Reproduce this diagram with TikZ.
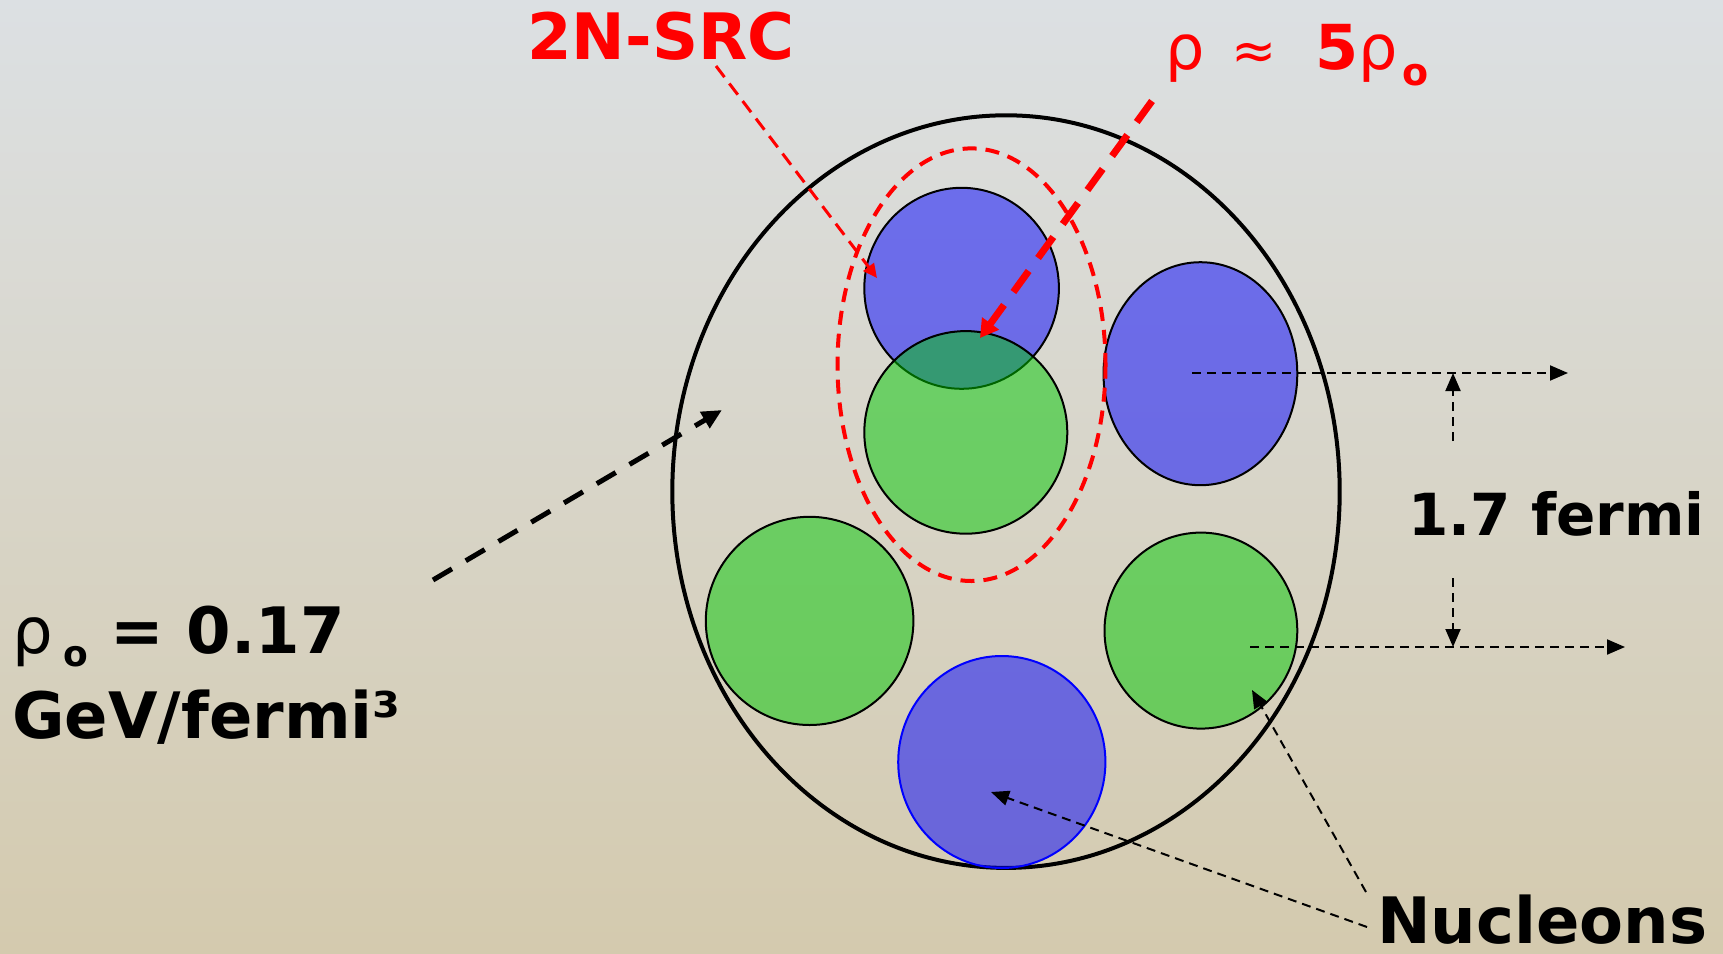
\documentclass[tikz,border=0pt]{standalone}
\usepackage{fontspec}
\setmainfont{DejaVu Sans}
\usetikzlibrary{arrows.meta}

\definecolor{bgtop}{RGB}{220,224,227}
\definecolor{bgbottom}{RGB}{212,202,174}
\definecolor{nucgreen}{RGB}{0,200,0}

\begin{document}
\begin{tikzpicture}[x=0.5pt,y=-0.5pt,
  proton/.style={fill=blue,fill opacity=0.5,draw=black,line width=1pt},
  neutron/.style={fill=nucgreen,fill opacity=0.5,draw=black,line width=1pt},
  bigtext/.style={font=\bfseries\fontsize{32}{42.5}\selectfont,inner sep=0pt,anchor=base west},
  hint/.style={line width=1pt,dash pattern=on 4.5pt off 3pt,-{Triangle[length=9pt,width=7.5pt]}}]
  \shade[top color=bgtop,bottom color=bgbottom] (0,0) rectangle (1723,953);
  \useasboundingbox (0,0) rectangle (1723,953);

  % nucleus and nucleons
  \draw[line width=2pt] (1006,491.6) ellipse [x radius=333.7,y radius=376.3];
  \draw[proton] (961.6,288.3) ellipse [x radius=97.3,y radius=100.5];
  \draw[neutron] (965.8,432.4) ellipse [x radius=101.5,y radius=101.3];
  \draw[proton] (1200.4,373.7) ellipse [x radius=96.9,y radius=111.5];
  \draw[neutron] (809.6,620.9) ellipse [x radius=103.8,y radius=104.1];
  \draw[neutron] (1200.9,630.6) ellipse [x radius=96.4,y radius=98];
  \draw[proton,draw=blue] (1001.8,762) ellipse [x radius=103.6,y radius=106];
  \draw[red,line width=2pt,dash pattern=on 7pt off 4.5pt] (971.5,364.7) ellipse [x radius=134,y radius=216.3];

  % labels
  \node[bigtext,red] (srclabel) at (527,59) {2N-SRC};
  \node[bigtext,red,font=\mdseries\fontsize{31}{37}\selectfont] (densitylabel) at (1165,69)
    {ρ\hspace{13.5pt}{\fontsize{27}{30}\selectfont≈}\hspace{19pt}\textbf{5}ρ\hspace{2.5pt}\raisebox{-8pt}{\bfseries\fontsize{19}{19}\selectfont o}};
  \node[bigtext,font=\bfseries\fontsize{29}{35}\selectfont] (widthlabel) at (1408,535) {1.7 fermi};
  \node[bigtext] (nuclabel) at (1377,943) {Nucleons};
  \node[bigtext,align=left] (rholabel) at (12,738)
    {{\mdseries ρ}\,\raisebox{-6.5pt}{\fontsize{18}{18}\selectfont o} = 0.17\\GeV/fermi³};

  % arrow ends
  \coordinate (rhotail) at (433,580);
  \coordinate (rhotip) at (722,410);
  \coordinate (srctail) at (716,66);
  \coordinate (srctip) at (877,278);
  \coordinate (denstail) at (1152,101);
  \coordinate (denstip) at (980,338);
  \coordinate (upfrom) at (1192,373);
  \coordinate (upto) at (1568,373);
  \coordinate (lowfrom) at (1250,647);
  \coordinate (lowto) at (1625,647);
  \coordinate (uptail) at (1453,441);
  \coordinate (uptip) at (1453,373);
  \coordinate (downtail) at (1453,578);
  \coordinate (downtip) at (1453,647);
  \coordinate (nuctailA) at (1367,927);
  \coordinate (nuctipA) at (991,792);
  \coordinate (nuctailB) at (1366,892);
  \coordinate (nuctipB) at (1252,690);

  \draw[line width=2.5pt,dash pattern=on 11pt off 8pt,-{Triangle[length=10pt,width=9pt]}] (rhotail) -- (rhotip);
  \draw[red,line width=1.5pt,dash pattern=on 7pt off 4pt,-{Triangle[length=7pt,width=6.5pt]}] (srctail) -- (srctip);
  \draw[red,line width=3.5pt,dash pattern=on 13pt off 8pt,-{Triangle[length=9pt,width=10pt]}] (denstail) -- (denstip);
  \draw[hint] (upfrom) -- (upto);
  \draw[hint] (lowfrom) -- (lowto);
  \draw[hint] (uptail) -- (uptip);
  \draw[hint] (downtail) -- (downtip);
  \draw[hint] (nuctailA) -- (nuctipA);
  \draw[hint] (nuctailB) -- (nuctipB);
\end{tikzpicture}
\end{document}
